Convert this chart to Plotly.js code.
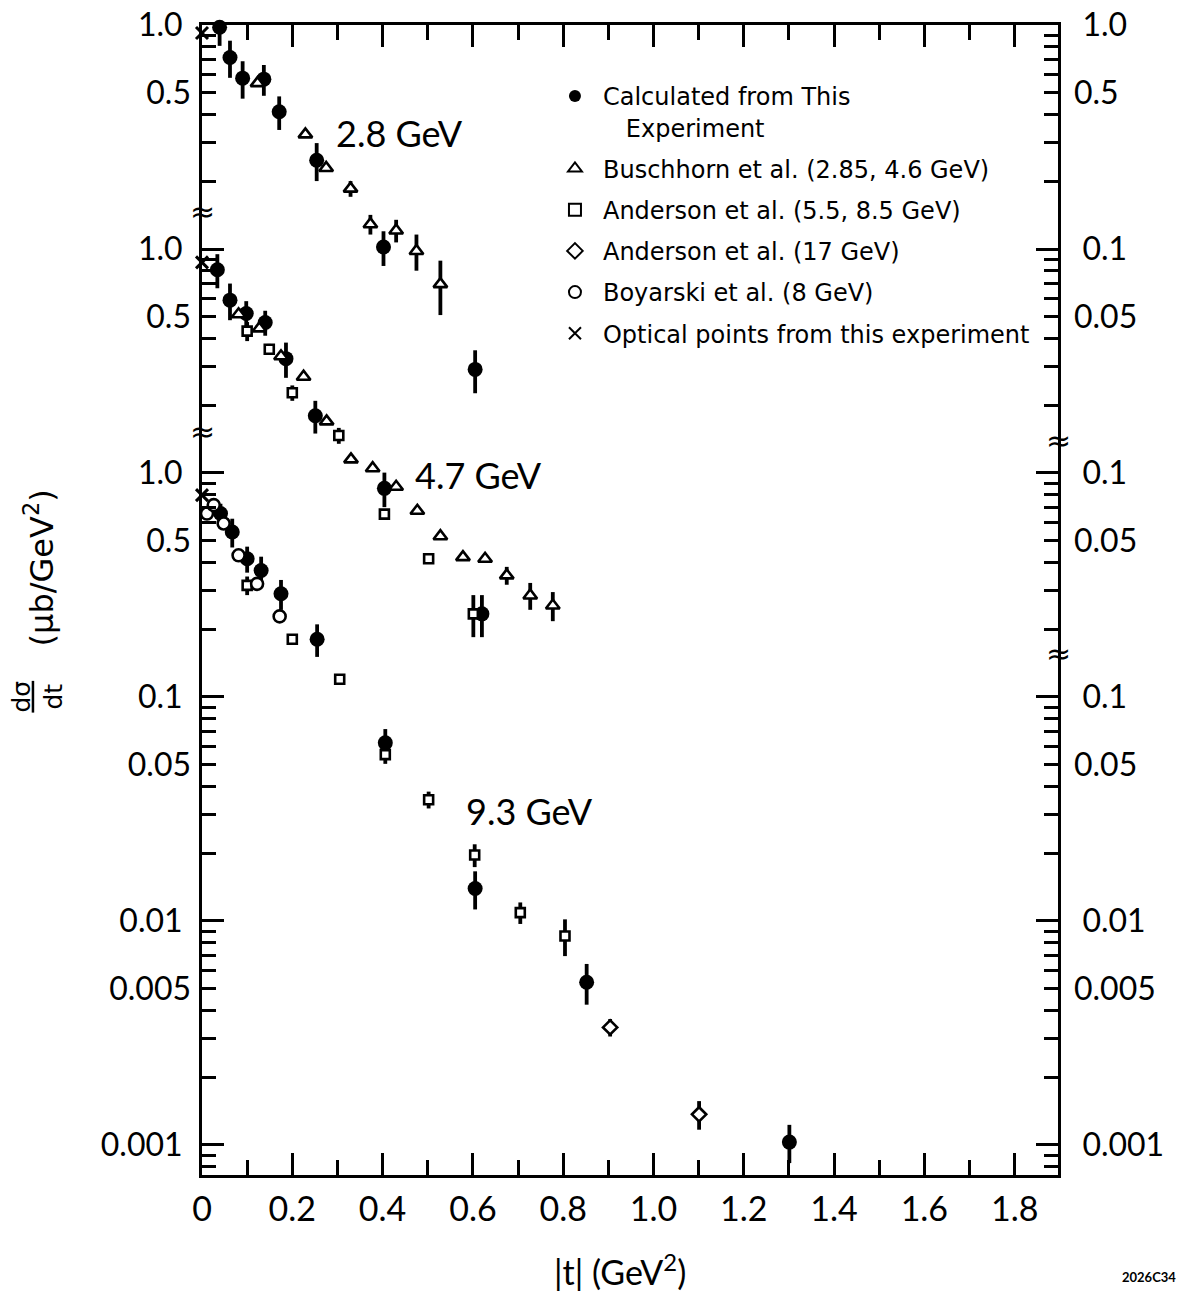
<!DOCTYPE html>
<html><head><meta charset="utf-8">
<script src="https://cdn.plot.ly/plotly-3.0.1.min.js"></script>
<style>html,body{margin:0;padding:0;background:#fff}</style>
</head><body>
<div id="chart" style="width:1182px;height:1291px"></div>
<script>
// Each energy panel is displayed shifted up by one decade
const panelShift = {"2.8": 100, "4.7": 10, "9.3": 1};

// ---- Calculated from this experiment (filled circles)
const calc28_t = [0.039, 0.062, 0.090, 0.137, 0.171, 0.254, 0.402, 0.605];
const calc28_y = [0.977, 0.716, 0.579, 0.573, 0.41, 0.249, 0.102, 0.029];
const calc28_e = [0.17, 0.135, 0.11, 0.09, 0.07, 0.048, 0.018, 0.0063];
const calc47_t = [0.034, 0.062, 0.098, 0.140, 0.186, 0.251, 0.404, 0.620];
const calc47_y = [0.808, 0.591, 0.515, 0.47, 0.324, 0.18, 0.0854, 0.0235];
const calc47_e = [0.14, 0.11, 0.07, 0.06, 0.058, 0.03, 0.015, 0.005];
const calc93_t = [0.041, 0.067, 0.100, 0.131, 0.175, 0.255, 0.406, 0.605, 0.852, 1.301];
const calc93_y = [0.659, 0.545, 0.414, 0.367, 0.289, 0.181, 0.0624, 0.01396, 0.00533, 0.00103];
const calc93_e = [0.07, 0.08, 0.055, 0.056, 0.044, 0.03, 0.0095, 0.0027, 0.0011, 0.0002];

// ---- Buschhorn et al. (2.85, 4.6 GeV) (triangles)
const busch28_t = [0.123, 0.229, 0.275, 0.329, 0.373, 0.430, 0.475, 0.528];
const busch28_y = [0.55, 0.325, 0.23, 0.186, 0.129, 0.121, 0.098, 0.0697];
const busch28_e = [0, 0, 0, 0.015, 0.013, 0.014, 0.018, 0.019];
const busch46_t = [0.081, 0.127, 0.175, 0.225, 0.276, 0.330, 0.378, 0.430, 0.477, 0.528, 0.578, 0.627, 0.675, 0.727, 0.777];
const busch46_y = [0.511, 0.442, 0.332, 0.269, 0.170, 0.115, 0.105, 0.0868, 0.0678, 0.0522, 0.0421, 0.0414, 0.0349, 0.0284, 0.0256];
const busch46_e = [0, 0, 0, 0, 0, 0, 0, 0, 0, 0, 0, 0, 0.0032, 0.0039, 0.0038];

// ---- Anderson et al. (5.5, 8.5 GeV) (squares)
const and55_t = [0.100, 0.149, 0.200, 0.303, 0.404, 0.502, 0.601];
const and55_y = [0.43, 0.357, 0.228, 0.147, 0.0655, 0.0414, 0.0235];
const and55_e = [0.042, 0.02, 0.018, 0.012, 0, 0, 0.005];
const and85_t = [0.100, 0.200, 0.305, 0.406, 0.502, 0.604, 0.705, 0.804];
const and85_y = [0.315, 0.181, 0.12, 0.0553, 0.0348, 0.0197, 0.0109, 0.00857];
const and85_e = [0.03, 0.01, 0.006, 0.005, 0.003, 0.0023, 0.0012, 0.0016];

// ---- Anderson et al. (17 GeV) (diamonds)
const and17_t = [0.904, 1.101];
const and17_y = [0.00335, 0.00137];
const and17_e = [0.0003, 0.0002];

// ---- Boyarski et al. (8 GeV) (open circles)
const boy8_t = [0.011, 0.026, 0.048, 0.081, 0.122, 0.172];
const boy8_y = [0.659, 0.719, 0.595, 0.429, 0.32, 0.229];

// ---- Optical points from this experiment (x), one per panel
const optical_t = [0, 0, 0];
const optical_y = [0.921, 0.872, 0.797];
const optical_panel = ["2.8", "4.7", "9.3"];

// ---- Tick labels
const xTickVals = [0, 0.2, 0.4, 0.6, 0.8, 1.0, 1.2, 1.4, 1.6, 1.8];
const xTickText = ["0", "0.2", "0.4", "0.6", "0.8", "1.0", "1.2", "1.4", "1.6", "1.8"];
const xMinorVals = [0.1, 0.3, 0.5, 0.7, 0.9, 1.1, 1.3, 1.5, 1.7];
const yDecadeVals = [0.001, 0.01, 0.1, 1, 10, 100];
const yDecadeLeft = ["0.001", "0.01", "0.1", "1.0", "1.0", "1.0"];
const yDecadeRight = ["0.001", "0.01", "0.1", "0.1", "0.1", "1.0"];
const yFiveVals = [0.005, 0.05, 0.5, 5, 50];
const yFiveLeft = ["0.005", "0.05", "0.5", "0.5", "0.5"];
const yFiveRight = ["0.005", "0.05", "0.05", "0.05", "0.5"];
const yMinorMult = [2, 3, 4, 6, 7, 8, 9];
const yMinorExp = [-4, -3, -2, -1, 0, 1];

const panelLabels = ["2.8 GeV", "4.7 GeV", "9.3 GeV"];
const legendNames = [
  "Calculated from This<br>\u00a0\u00a0\u00a0Experiment",
  "Buschhorn et al. (2.85, 4.6 GeV)",
  "Anderson et al. (5.5, 8.5 GeV)",
  "Anderson et al. (17 GeV)",
  "Boyarski et al. (8 GeV)",
  "Optical points from this experiment"
];

function sh(vals, p) { return vals.map(v => v * panelShift[p]); }
const yMinorVals = [];
yMinorExp.forEach(e => yMinorMult.forEach(m => yMinorVals.push(m * Math.pow(10, e))));

const eb = (arr) => ({type: 'data', array: arr, visible: true, thickness: 3.8, width: 0, color: '#000'});
const open = (sym, size) => ({symbol: sym, size: size, color: '#fff', line: {color: '#000', width: 2.6}});

const opticalY = optical_y.map((v, i) => v * panelShift[optical_panel[i]]);

const traces = [
  {
    name: legendNames[0], legendgroup: 'g1',
    x: calc28_t.concat(calc47_t, calc93_t),
    y: sh(calc28_y, "2.8").concat(sh(calc47_y, "4.7"), sh(calc93_y, "9.3")),
    error_y: eb(sh(calc28_e, "2.8").concat(sh(calc47_e, "4.7"), sh(calc93_e, "9.3"))),
    marker: {symbol: 'circle', size: 15, color: '#000'}
  },
  {
    name: legendNames[1], legendgroup: 'g2',
    x: busch28_t.concat(busch46_t),
    y: sh(busch28_y, "2.8").concat(sh(busch46_y, "4.7")),
    error_y: eb(sh(busch28_e, "2.8").concat(sh(busch46_e, "4.7"))),
    marker: open('triangle-up', 12)
  },
  {
    name: legendNames[2], legendgroup: 'g3',
    x: and55_t.concat(and85_t),
    y: sh(and55_y, "4.7").concat(sh(and85_y, "9.3")),
    error_y: eb(sh(and55_e, "4.7").concat(sh(and85_e, "9.3"))),
    marker: open('square', 9)
  },
  {
    name: legendNames[3], legendgroup: 'g4',
    x: and17_t, y: sh(and17_y, "9.3"),
    error_y: eb(sh(and17_e, "9.3")),
    marker: open('diamond', 11)
  },
  {
    name: legendNames[4], legendgroup: 'g5',
    x: boy8_t, y: sh(boy8_y, "9.3"),
    marker: open('circle', 12)
  },
  {
    name: legendNames[5], legendgroup: 'g6',
    x: optical_t, y: opticalY,
    marker: {symbol: 'x-thin', size: 12, color: '#000', line: {color: '#000', width: 3}}
  }
].map(t => Object.assign({type: 'scatter', mode: 'markers', cliponaxis: false, hoverinfo: 'skip'}, t));

// hidden copies of the optical points so that the right-hand and label axes are drawn
['y2', 'y3', 'y4'].forEach(ax => traces.push({
  type: 'scatter', mode: 'markers', x: optical_t, y: opticalY, yaxis: ax,
  marker: {opacity: 0}, showlegend: false, hoverinfo: 'skip'
}));

const yRange = [-3.134, 2.0];
const commonY = {
  type: 'log', range: yRange, autorange: false, showgrid: false, zeroline: false,
  ticks: 'inside', tickwidth: 3, tickcolor: '#000',
  tickfont: {size: 32, color: '#000'}, ticklabelstandoff: 10
};

const mid = {showarrow: false, xanchor: 'center', yanchor: 'middle'};
const breakFont = {size: 30, family: '"DejaVu Sans", sans-serif'};

const layout = {
  width: 1182, height: 1291,
  margin: {l: 202, r: 124, t: 25, b: 116},
  paper_bgcolor: '#fff', plot_bgcolor: '#fff',
  font: {family: 'Lato, "DejaVu Sans", sans-serif', color: '#000'},
  showlegend: true,
  legend: {
    x: 0.403, y: 0.9574, xanchor: 'left', yanchor: 'top',
    font: {size: 24, color: '#000', family: '"DejaVu Sans", sans-serif'}, itemwidth: 46, valign: 'top',
    tracegroupgap: 7, bgcolor: 'rgba(0,0,0,0)', borderwidth: 0,
    itemsizing: 'constant'
  },
  xaxis: {
    range: [0, 1.896], autorange: false, showgrid: false, zeroline: false,
    showline: true, linewidth: 3, linecolor: '#000', mirror: 'ticks',
    ticks: 'inside', ticklen: 22, tickwidth: 3, tickcolor: '#000',
    tickmode: 'array', tickvals: xTickVals, ticktext: xTickText,
    tickfont: {size: 34, color: '#000'}, ticklabelstandoff: 2,
    minor: {tickmode: 'array', tickvals: xMinorVals, ticks: 'inside', ticklen: 15, tickwidth: 3, tickcolor: '#000'}
  },
  yaxis: Object.assign({}, commonY, {
    side: 'left', showline: true, linewidth: 3, linecolor: '#000',
    tickmode: 'array', tickvals: yDecadeVals, ticktext: yDecadeLeft, ticklen: 22,
    minor: {tickmode: 'array', tickvals: yMinorVals, ticks: 'inside', ticklen: 14, tickwidth: 3, tickcolor: '#000'}
  }),
  yaxis2: Object.assign({}, commonY, {
    side: 'right', overlaying: 'y', anchor: 'x', showline: true, linewidth: 3, linecolor: '#000',
    tickmode: 'array', tickvals: yDecadeVals, ticktext: yDecadeRight, ticklen: 22, ticklabelstandoff: 15,
    minor: {tickmode: 'array', tickvals: yMinorVals, ticks: 'inside', ticklen: 14, tickwidth: 3, tickcolor: '#000'}
  }),
  yaxis3: Object.assign({}, commonY, {
    side: 'left', overlaying: 'y', anchor: 'x', showline: false,
    tickmode: 'array', tickvals: yFiveVals, ticktext: yFiveLeft, ticklen: 14
  }),
  yaxis4: Object.assign({}, commonY, {
    side: 'right', overlaying: 'y', anchor: 'x', showline: false, ticklabelstandoff: 15,
    tickmode: 'array', tickvals: yFiveVals, ticktext: yFiveRight, ticklen: 14
  }),
  annotations: [
    Object.assign({text: panelLabels[0], xref: 'x', yref: 'paper', x: 0.437, y: 0.906, font: {size: 36}}, mid),
    Object.assign({text: panelLabels[1], xref: 'x', yref: 'paper', x: 0.612, y: 0.609, font: {size: 36}}, mid),
    Object.assign({text: panelLabels[2], xref: 'x', yref: 'paper', x: 0.725, y: 0.3165, font: {size: 36}}, mid),
    Object.assign({text: '≈', xref: 'paper', yref: 'paper', x: 0, y: 0.8374, font: breakFont}, mid),
    Object.assign({text: '≈', xref: 'paper', yref: 'paper', x: 0, y: 0.6461, font: breakFont}, mid),
    Object.assign({text: '≈', xref: 'paper', yref: 'paper', x: 1, y: 0.6391, font: breakFont}, mid),
    Object.assign({text: '≈', xref: 'paper', yref: 'paper', x: 1, y: 0.4539, font: breakFont}, mid),
    Object.assign({text: '(μb/GeV<sup>2</sup>)', xref: 'paper', yref: 'paper', x: -0.190, y: 0.5278, textangle: -90,
      font: {size: 32, family: '"DejaVu Sans", sans-serif'}}, mid),
    Object.assign({text: '<u>dσ</u><br>dt', xref: 'paper', yref: 'paper', x: -0.192, y: 0.4157, textangle: -90,
      font: {size: 25, family: '"DejaVu Sans", sans-serif'}}, mid),
    Object.assign({text: '|t| (GeV<sup>2</sup>)', xref: 'paper', yref: 'paper', x: 0.488, y: -0.0826, font: {size: 34}}, mid),
    Object.assign({text: '<b>2026C34</b>', xref: 'paper', yref: 'paper', x: 1.106, y: -0.0887, font: {size: 13}}, mid)
  ]
};

Plotly.newPlot('chart', traces, layout, {staticPlot: true, displayModeBar: false});
</script>
</body></html>
